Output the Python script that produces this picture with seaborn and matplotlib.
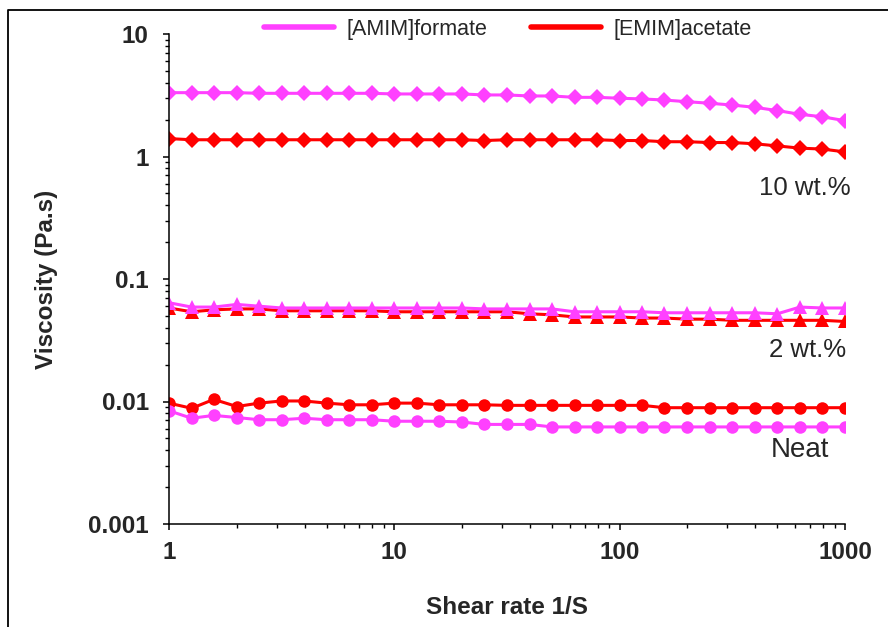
import numpy as np
import pandas as pd
import matplotlib
matplotlib.use("Agg")
import matplotlib.pyplot as plt
import matplotlib.ticker as mticker
from matplotlib.lines import Line2D
import seaborn as sns

# ---- data ----
shear = [1, 1.26, 1.58, 2, 2.51, 3.16, 3.98, 5.01, 6.31, 7.94,
         10, 12.6, 15.8, 20, 25.1, 31.6, 39.8, 50.1, 63.1, 79.4,
         100, 126, 158, 200, 251, 316, 398, 501, 631, 794, 1000]

amim_10 = [3.32, 3.32, 3.32, 3.32, 3.28, 3.28, 3.28, 3.28, 3.28, 3.28,
           3.24, 3.24, 3.24, 3.24, 3.18, 3.18, 3.12, 3.12, 3.04, 3.04,
           2.99, 2.95, 2.89, 2.80, 2.72, 2.63, 2.52, 2.37, 2.21, 2.11, 1.96]
emim_10 = [1.40, 1.37, 1.37, 1.37, 1.37, 1.37, 1.37, 1.37, 1.37, 1.37,
           1.37, 1.37, 1.37, 1.37, 1.35, 1.37, 1.37, 1.37, 1.37, 1.37,
           1.35, 1.35, 1.32, 1.32, 1.30, 1.30, 1.27, 1.22, 1.17, 1.15, 1.09]

amim_2 = [0.064, 0.059, 0.059, 0.062, 0.060, 0.058, 0.058, 0.058, 0.058, 0.058,
          0.058, 0.058, 0.058, 0.058, 0.057, 0.057, 0.057, 0.057, 0.054, 0.054,
          0.054, 0.054, 0.053, 0.053, 0.053, 0.053, 0.053, 0.052, 0.059, 0.058, 0.058]
emim_2 = [0.058, 0.054, 0.056, 0.057, 0.057, 0.055, 0.055, 0.055, 0.055, 0.055,
          0.054, 0.054, 0.054, 0.054, 0.054, 0.054, 0.052, 0.051, 0.049, 0.049,
          0.049, 0.048, 0.048, 0.047, 0.047, 0.046, 0.046, 0.046, 0.046, 0.046, 0.045]

amim_neat = [0.0084, 0.0073, 0.0077, 0.0074, 0.0071, 0.0071, 0.0073, 0.0071, 0.0071, 0.0071,
             0.0069, 0.0069, 0.0069, 0.0068, 0.0065, 0.0065, 0.0065, 0.0062, 0.0062, 0.0062,
             0.0062, 0.0062, 0.0062, 0.0062, 0.0062, 0.0062, 0.0062, 0.0062, 0.0062, 0.0062, 0.0062]
emim_neat = [0.0097, 0.0088, 0.0104, 0.0091, 0.0097, 0.0101, 0.0101, 0.0097, 0.0094, 0.0094,
             0.0097, 0.0097, 0.0094, 0.0094, 0.0094, 0.0093, 0.0093, 0.0093, 0.0093, 0.0093,
             0.0093, 0.0093, 0.0089, 0.0089, 0.0089, 0.0089, 0.0089, 0.0089, 0.0089, 0.0089, 0.0089]

liquids = ["[AMIM]formate", "[EMIM]acetate"]
conc_labels = ["10 wt.%", "2 wt.%", "Neat"]
x_ticklabels = ["1", "10", "100", "1000"]
y_ticklabels = ["0.001", "0.01", "0.1", "1", "10"]

colors = {"[AMIM]formate": "#FF40FF", "[EMIM]acetate": "#FF0000"}
markers = {"10 wt.%": "D", "2 wt.%": "^", "Neat": "o"}
msizes = {"10 wt.%": 8.5, "2 wt.%": 9.5, "Neat": 9}

series = {
    ("[EMIM]acetate", "10 wt.%"): emim_10,
    ("[AMIM]formate", "10 wt.%"): amim_10,
    ("[EMIM]acetate", "2 wt.%"): emim_2,
    ("[AMIM]formate", "2 wt.%"): amim_2,
    ("[EMIM]acetate", "Neat"): emim_neat,
    ("[AMIM]formate", "Neat"): amim_neat,
}

sns.set_style("white")
plt.rcParams["font.family"] = ["Liberation Sans", "DejaVu Sans"]

W, H = 888, 627
fig = plt.figure(figsize=(W / 100, H / 100), dpi=100)
ax = fig.add_axes([169 / W, 1 - 524 / H, (845 - 169) / W, (524 - 34) / H])

for (liq, conc), vals in series.items():
    df = pd.DataFrame({"shear": shear, "visc": vals})
    sns.lineplot(data=df, x="shear", y="visc", ax=ax, color=colors[liq],
                 marker=markers[conc], markersize=msizes[conc],
                 markeredgewidth=0, linewidth=2.2, legend=False)

ax.set_xscale("log")
ax.set_yscale("log")
ax.set_xlim(1, 1000)
ax.set_ylim(0.001, 10)

ax.xaxis.set_major_locator(mticker.FixedLocator([1, 10, 100, 1000]))
ax.xaxis.set_major_formatter(mticker.FixedFormatter(x_ticklabels))
ax.yaxis.set_major_locator(mticker.FixedLocator([0.001, 0.01, 0.1, 1, 10]))
ax.yaxis.set_major_formatter(mticker.FixedFormatter(y_ticklabels))
ax.xaxis.set_minor_locator(mticker.LogLocator(base=10, subs=np.arange(2, 10)))
ax.yaxis.set_minor_locator(mticker.LogLocator(base=10, subs=np.arange(2, 10)))
ax.xaxis.set_minor_formatter(mticker.NullFormatter())
ax.yaxis.set_minor_formatter(mticker.NullFormatter())

ax.tick_params(axis="x", which="major", pad=8)
ax.tick_params(axis="y", which="major", pad=10)
ax.tick_params(axis="both", which="major", direction="out", length=4.5, width=1.1,
               color="black", labelsize=17.5, bottom=True, left=True)
ax.tick_params(axis="both", which="minor", direction="out", length=3, width=1.0,
               color="black", bottom=True, left=True)
for lab in ax.get_xticklabels() + ax.get_yticklabels():
    lab.set_fontweight("bold")

for side in ["top", "right"]:
    ax.spines[side].set_visible(False)
for side in ["left", "bottom"]:
    ax.spines[side].set_color("black")
    ax.spines[side].set_linewidth(1.1)

ax.set_xlabel("Shear rate 1/S", fontsize=17.5, fontweight="bold", labelpad=23)
ax.set_ylabel("Viscosity (Pa.s)", fontsize=17.5, fontweight="bold", labelpad=22)

ax.text(0.94, 0.686, conc_labels[0], transform=ax.transAxes, ha="center", va="center", fontsize=18.5)
ax.text(0.944, 0.355, conc_labels[1], transform=ax.transAxes, ha="center", va="center", fontsize=18.5)
ax.text(0.933, 0.151, conc_labels[2], transform=ax.transAxes, ha="center", va="center", fontsize=20)

handles = [Line2D([], [], color=colors[l], linewidth=4) for l in liquids]
fig.legend(handles, liquids, loc="center", bbox_to_anchor=(508 / W, 1 - 29 / H),
           ncol=2, frameon=False, fontsize=15.5, handlelength=3.25,
           columnspacing=2.0, handletextpad=0.6)

# figure frame (top and left border)
fig.add_artist(Line2D([8 / W, 8 / W, 1.0], [0.0, 1 - 10 / H, 1 - 10 / H],
                      transform=fig.transFigure, color="black", linewidth=1.3))

fig.savefig("out.png", dpi=100, facecolor="white")
